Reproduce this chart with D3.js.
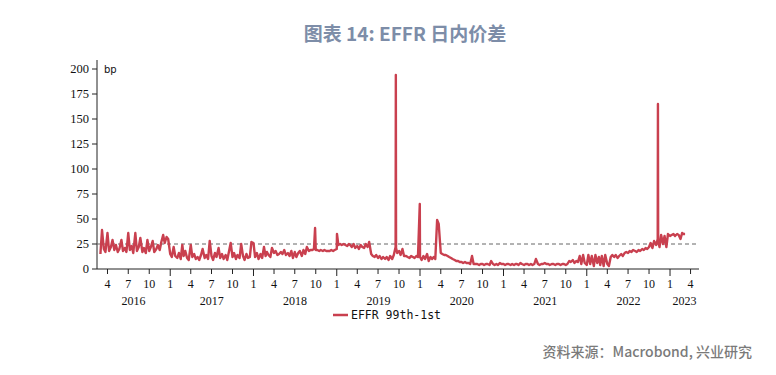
<!DOCTYPE html>
<html>
<head>
<meta charset="utf-8">
<script src="https://cdn.jsdelivr.net/npm/d3@7"></script>
<style>
  body { margin: 0; background: #fff; }
  svg { display: block; }
</style>
</head>
<body>
<div class="svg-container"></div>
<script>
// EFFR 99th-1st percentile, bp: 4 readings a month (1st, 8th, 16th, 23rd)
const v2016 = [ // from March
  15, 39, 20, 17,  36, 18, 22, 29,  19, 24, 17, 20,  29, 18, 21, 17,
  36, 19, 23, 16,  36, 18, 22, 31,  17, 21, 16, 29,  18, 22, 28, 17,
  20, 24, 19, 27,  34, 26, 32, 30
]
const v2017 = [
  15, 12, 22, 13,  11, 16, 10, 24,  13, 18, 11, 9,   24, 12, 15, 10,
  12, 9, 14, 20,   11, 14, 10, 28,  13, 9, 16, 12,   21, 11, 15, 10,
  14, 9, 18, 26,   12, 16, 10, 14,  11, 25, 13, 9,   15, 11, 12, 27
]
const v2018 = [
  26, 12, 16, 10,  15, 11, 22, 13,  17, 14, 12, 21,  16, 18, 14, 15,
  17, 15, 19, 14,  16, 13, 18, 11,  17, 12, 16, 18,  13, 19, 15, 22,
  18, 19, 19, 20,  19, 19, 18, 19,  18, 19, 18, 18,  18, 19, 18, 19
]
const v2019 = [
  20, 24, 25, 24,  25, 24, 23, 25,  24, 22, 25, 21,  23, 20, 24, 22,
  21, 25, 22, 27,  15, 13, 12, 14,  11, 13, 10, 12,  10, 12, 9, 13,
  10, 14, 22, 16,  18, 14, 20, 13,  13, 12, 11, 13,  12, 11, 13, 12
]
const v2020 = [
  12, 9, 13, 10,   15, 8, 12, 10,   12, 10, 49, 45,  16, 15, 14, 14,
  13, 12, 11, 10,  9, 8, 8, 7,      7, 6, 7, 6,      6, 5, 13, 5,
  5, 5, 4, 5,      5, 4, 5, 5,      4, 8, 5, 4,      5, 4, 6, 5
]
const v2021 = [
  5, 4, 5, 5,      4, 5, 4, 5,      5, 4, 6, 5,      4, 5, 5, 4,
  5, 4, 5, 10,     5, 4, 5, 5,      6, 5, 5, 4,      5, 5, 4, 5,
  5, 4, 5, 5,      4, 5, 8, 7,      9, 6, 8, 7,      13, 5, 14, 6
]
const v2022 = [
  4, 14, 5, 13,    3, 14, 6, 12,    4, 13, 3, 14,    5, 3, 12, 14,
  12, 14, 11, 13,  15, 13, 16, 17,  16, 18, 17, 19,  18, 17, 19, 18,
  20, 19, 21, 20,  22, 26, 21, 28,  24, 30, 22, 34,  25, 33, 22, 35
]
const v2023 = [
  33, 34, 35, 33,  35, 34, 30, 36,  35, 35
]
// one-day spikes
const spikes = [
  ['2018-09-28', 41], ['2019-01-02', 35], ['2019-09-17', 194], ['2019-09-18', 21],
  ['2019-12-31', 65], ['2022-11-09', 165], ['2022-11-10', 27]
]
const yTicks = [0, 25, 50, 75, 100, 125, 150, 175, 200]
const years = [2016, 2017, 2018, 2019, 2020, 2021, 2022, 2023]
const refLevel = 25

const slotDays = [1, 8, 16, 23]
const parseDate = d3.timeParse('%Y-%m-%d')

function expand(year, startMonth, values) {
  return values.map((v, i) => ({
    date: new Date(year, startMonth + Math.floor(i / 4), slotDays[i % 4]),
    value: v
  }))
}

const series = [].concat(
  expand(2016, 2, v2016), expand(2017, 0, v2017), expand(2018, 0, v2018),
  expand(2019, 0, v2019), expand(2020, 0, v2020), expand(2021, 0, v2021),
  expand(2022, 0, v2022), expand(2023, 0, v2023),
  spikes.map(s => ({ date: parseDate(s[0]), value: s[1] }))
).sort((a, b) => a.date - b.date)

const svg = d3.select('.svg-container').append('svg')
  .attr('width', 776)
  .attr('height', 375)

const x = d3.scaleTime()
  .domain([new Date(2016, 1, 15), new Date(2023, 4, 8)])
  .range([97, 699])

const y = d3.scaleLinear()
  .domain([0, 209])
  .range([269, 60])

const serif = '"Liberation Serif", "DejaVu Serif", serif'

// title
svg.append('text')
  .attr('x', 405)
  .attr('y', 41)
  .attr('text-anchor', 'middle')
  .style('font-family', '"Noto Sans CJK SC", "Noto Sans", sans-serif')
  .style('font-weight', 'bold')
  .style('font-size', '19px')
  .style('fill', '#7d8da8')
  .text('图表 14: EFFR 日内价差')

// y axis
const yAxis = svg.append('g')
svg.append('line')
  .attr('x1', 97).attr('x2', 97)
  .attr('y1', y.range()[1]).attr('y2', y(0))
  .style('stroke', '#222')
yAxis.selectAll('.ytick')
  .data(yTicks)
  .enter()
  .append('line')
  .attr('x1', 92).attr('x2', 97)
  .attr('y1', d => y(d)).attr('y2', d => y(d))
  .style('stroke', '#222')
yAxis.selectAll('.ylabel')
  .data(yTicks)
  .enter()
  .append('text')
  .attr('x', 89)
  .attr('y', d => y(d) + 4)
  .attr('text-anchor', 'end')
  .style('font-family', serif)
  .style('font-size', '12.5px')
  .style('fill', '#111')
  .text(d => d)

svg.append('text')
  .attr('x', 104)
  .attr('y', 73)
  .style('font-family', '"DejaVu Sans", sans-serif')
  .style('font-size', '10px')
  .style('fill', '#111')
  .text('bp')

// x axis
const quarterTicks = d3.timeMonth.every(3).range(new Date(2016, 3, 1), x.domain()[1])
svg.append('line')
  .attr('x1', 97).attr('x2', 699)
  .attr('y1', y(0)).attr('y2', y(0))
  .style('stroke', '#222')
svg.selectAll('.xtick')
  .data(quarterTicks)
  .enter()
  .append('line')
  .attr('x1', d => x(d)).attr('x2', d => x(d))
  .attr('y1', y(0))
  .attr('y2', d => y(0) + (d.getMonth() === 0 ? 7 : 5))
  .style('stroke', '#222')
svg.selectAll('.xlabel')
  .data(quarterTicks)
  .enter()
  .append('text')
  .attr('x', d => x(d))
  .attr('y', 288)
  .attr('text-anchor', 'middle')
  .style('font-family', serif)
  .style('font-size', '12px')
  .style('fill', '#111')
  .text(d => d.getMonth() + 1)
svg.selectAll('.ylab')
  .data(years)
  .enter()
  .append('text')
  .attr('x', d => {
    const a = Math.max(x(new Date(d, 0, 1)), x.range()[0])
    const b = Math.min(x(new Date(d + 1, 0, 1)), x.range()[1])
    return (a + b) / 2
  })
  .attr('y', 305)
  .attr('text-anchor', 'middle')
  .style('font-family', serif)
  .style('font-size', '12px')
  .style('fill', '#111')
  .text(d => d)

// 25bp reference
svg.append('line')
  .attr('x1', 97).attr('x2', 699)
  .attr('y1', y(refLevel)).attr('y2', y(refLevel))
  .style('stroke', '#666')
  .style('stroke-dasharray', '4,3')

const line = d3.line()
  .x(d => x(d.date))
  .y(d => y(d.value))

svg.append('path')
  .datum(series)
  .attr('d', line)
  .style('fill', 'none')
  .style('stroke', '#c9404f')
  .style('stroke-width', 2.4)
  .style('stroke-linejoin', 'round')

// legend
svg.append('line')
  .attr('x1', 333).attr('x2', 348)
  .attr('y1', 315).attr('y2', 315)
  .style('stroke', '#c9404f')
  .style('stroke-width', 2.5)
svg.append('text')
  .attr('x', 351)
  .attr('y', 319)
  .style('font-family', '"DejaVu Sans Mono", monospace')
  .style('font-size', '11.5px')
  .style('fill', '#111')
  .text('EFFR 99th-1st')

// source
svg.append('text')
  .attr('x', 752)
  .attr('y', 357)
  .attr('text-anchor', 'end')
  .style('font-family', '"Noto Sans CJK SC", "Noto Sans", sans-serif')
  .style('font-size', '14px')
  .style('font-weight', 500)
  .style('fill', '#7a7a7a')
  .text('资料来源：Macrobond, 兴业研究')
</script>
</body>
</html>
